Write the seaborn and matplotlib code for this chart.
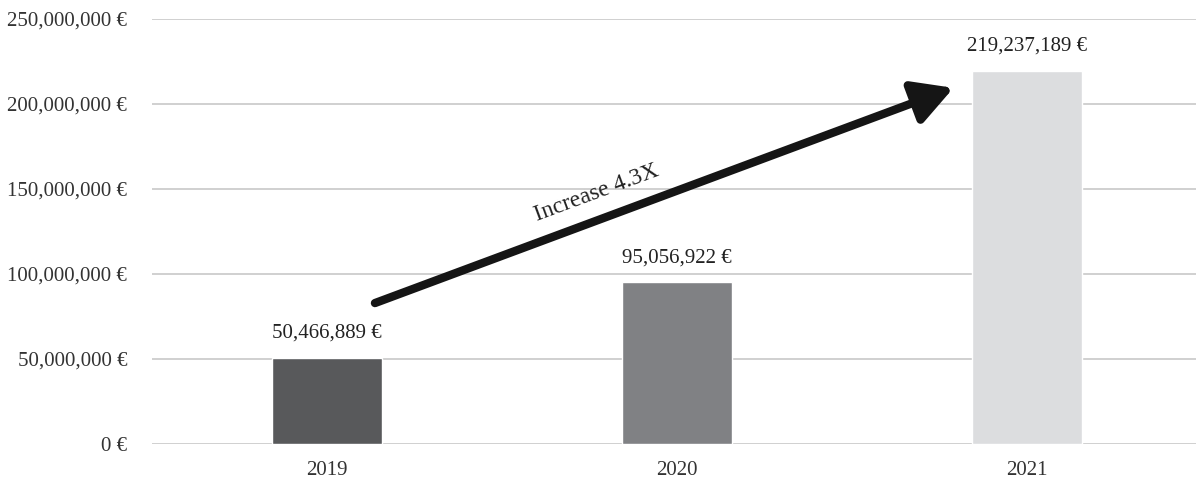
import numpy as np
import pandas as pd
import matplotlib
matplotlib.use('Agg')
import matplotlib.pyplot as plt
import seaborn as sns

years = ['2019', '2020', '2021']
revenue = [50466889, 95056922, 219237189]
bar_colors = ['#58595b', '#808184', '#dcdddf']
y_ticks = [0, 50000000, 100000000, 150000000, 200000000, 250000000]
arrow_label = 'Increase 4.3X'


def euro(v):
    return f"{v:,.0f} €"


sns.set_theme(style='white')
plt.rcParams['font.family'] = ['Liberation Serif', 'DejaVu Serif']

df = pd.DataFrame({'year': years, 'revenue': revenue})

fig = plt.figure(figsize=(11.96, 4.83), dpi=100)
ax = fig.add_axes([152 / 1196, (483 - 444) / 483, 1050 / 1196, 425 / 483])

sns.barplot(data=df, x='year', y='revenue', hue='year', palette=bar_colors,
            width=0.314, legend=False, ax=ax, saturation=1, zorder=3)

ax.set_xlim(-0.5, 2.5)
ax.set_ylim(0, 250000000)
ax.set_yticks(y_ticks)
ax.set_yticklabels([euro(v) for v in y_ticks])
ax.yaxis.grid(True, color='#c8c8c8', linewidth=1.2, zorder=0)
ax.set_axisbelow(True)
for s in ax.spines.values():
    s.set_visible(False)
ax.tick_params(axis='y', length=0, pad=18, labelsize=15, labelcolor='#333333')
ax.tick_params(axis='x', length=0, pad=12, labelsize=15, labelcolor='#333333')
ax.set_xlabel('')
ax.set_ylabel('')

for i, v in enumerate(revenue):
    ax.text(i, v + 9000000, euro(v), ha='center', va='bottom', fontsize=15, color='#222222')

# growth arrow
ax.annotate('', xy=(1.79, 209500000), xytext=(0.137, 82900000),
            arrowprops=dict(arrowstyle='-|>,head_length=2.0,head_width=1.1',
                            color='#151515', lw=6, shrinkA=0, shrinkB=0),
            annotation_clip=False, zorder=5)
ax.text(0.77, 147500000, arrow_label, rotation=20.4, rotation_mode='anchor',
        ha='center', va='center', fontsize=17, color='#222222')

fig.savefig('out.png', dpi=100)
